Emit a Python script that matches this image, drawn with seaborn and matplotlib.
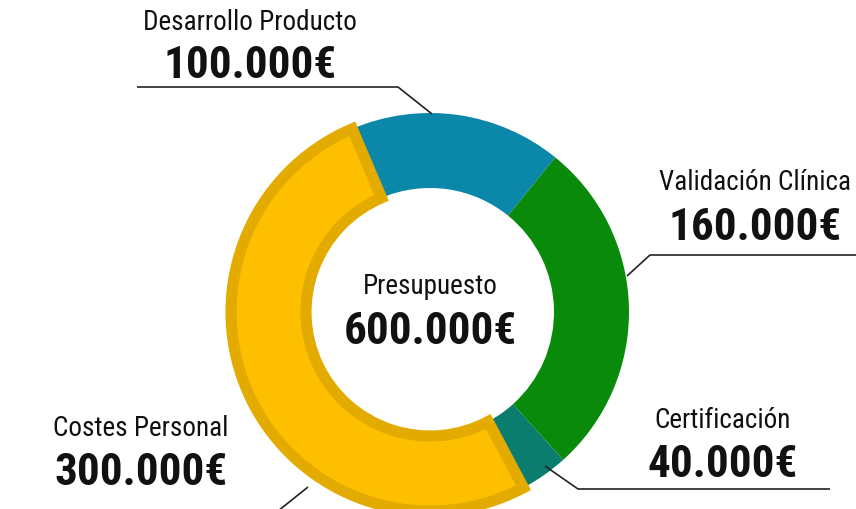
import numpy as np
import matplotlib.pyplot as plt
import seaborn as sns

# data
categories = ["Desarrollo Producto", "Validación Clínica", "Certificación", "Costes Personal"]
values = [100000, 160000, 40000, 300000]
value_labels = ["100.000€", "160.000€", "40.000€", "300.000€"]
# arc sizes as drawn in the original graphic (degrees), not exactly proportional to values
arc_degrees = [62, 99, 14, 185]
colors = ["#0A87A9", "#0A8A0A", "#0B7D6F", "#FDBF00"]
center_title = "Presupuesto"
total_label = "600.000€"

sns.set_theme(style="white")
plt.rcParams['font.family'] = ['Roboto Condensed', 'DejaVu Sans']

W, H = 856, 510
fig = plt.figure(figsize=(W / 100, H / 100), dpi=100)
ax = fig.add_axes([0, 0, 1, 1])

cx, cy, R = 430, 510 - 313, 199
wedges, _ = ax.pie(arc_degrees, colors=colors, startangle=113, counterclock=False,
                   center=(cx, cy), radius=R,
                   wedgeprops=dict(width=75, linewidth=0))
ax.set_xlim(0, W)
ax.set_ylim(0, H)
ax.set_aspect('equal')
ax.axis('off')

# darker inner border on the yellow segment
yw = wedges[3]
yw.set_edgecolor("#E3AB00")
yw.set_linewidth(8)
yw.set_clip_path(yw)

def y(p):
    return H - p

# center text
ax.text(cx, y(287), center_title, ha='center', va='center', fontsize=19.5, color='#111111')
ax.text(cx, y(332), total_label, ha='center', va='center', fontsize=32.5, fontweight='bold', color='#111111')

# labels
label_pos = [(250, 22, 66), (755, 183, 228), (723, 421, 465), (141, 429, 473)]
for name, val, (lx, ty, vy) in zip(categories, value_labels, label_pos):
    ax.text(lx, y(ty), name, ha='center', va='center', fontsize=19.5, color='#111111')
    ax.text(lx, y(vy), val, ha='center', va='center', fontsize=32.5, fontweight='bold', color='#111111')

# leader lines
leaders = [
    ([137, 398, 432], [88, 88, 115]),
    ([627, 650, 856], [277, 256, 256]),
    ([545, 578, 830], [467, 490, 490]),
    ([308, 278], [488, 512]),
]
for xs, ys in leaders:
    ax.plot(xs, [y(v) for v in ys], color='#222222', linewidth=1.2, solid_capstyle='butt')

fig.savefig("out.png", dpi=100)
